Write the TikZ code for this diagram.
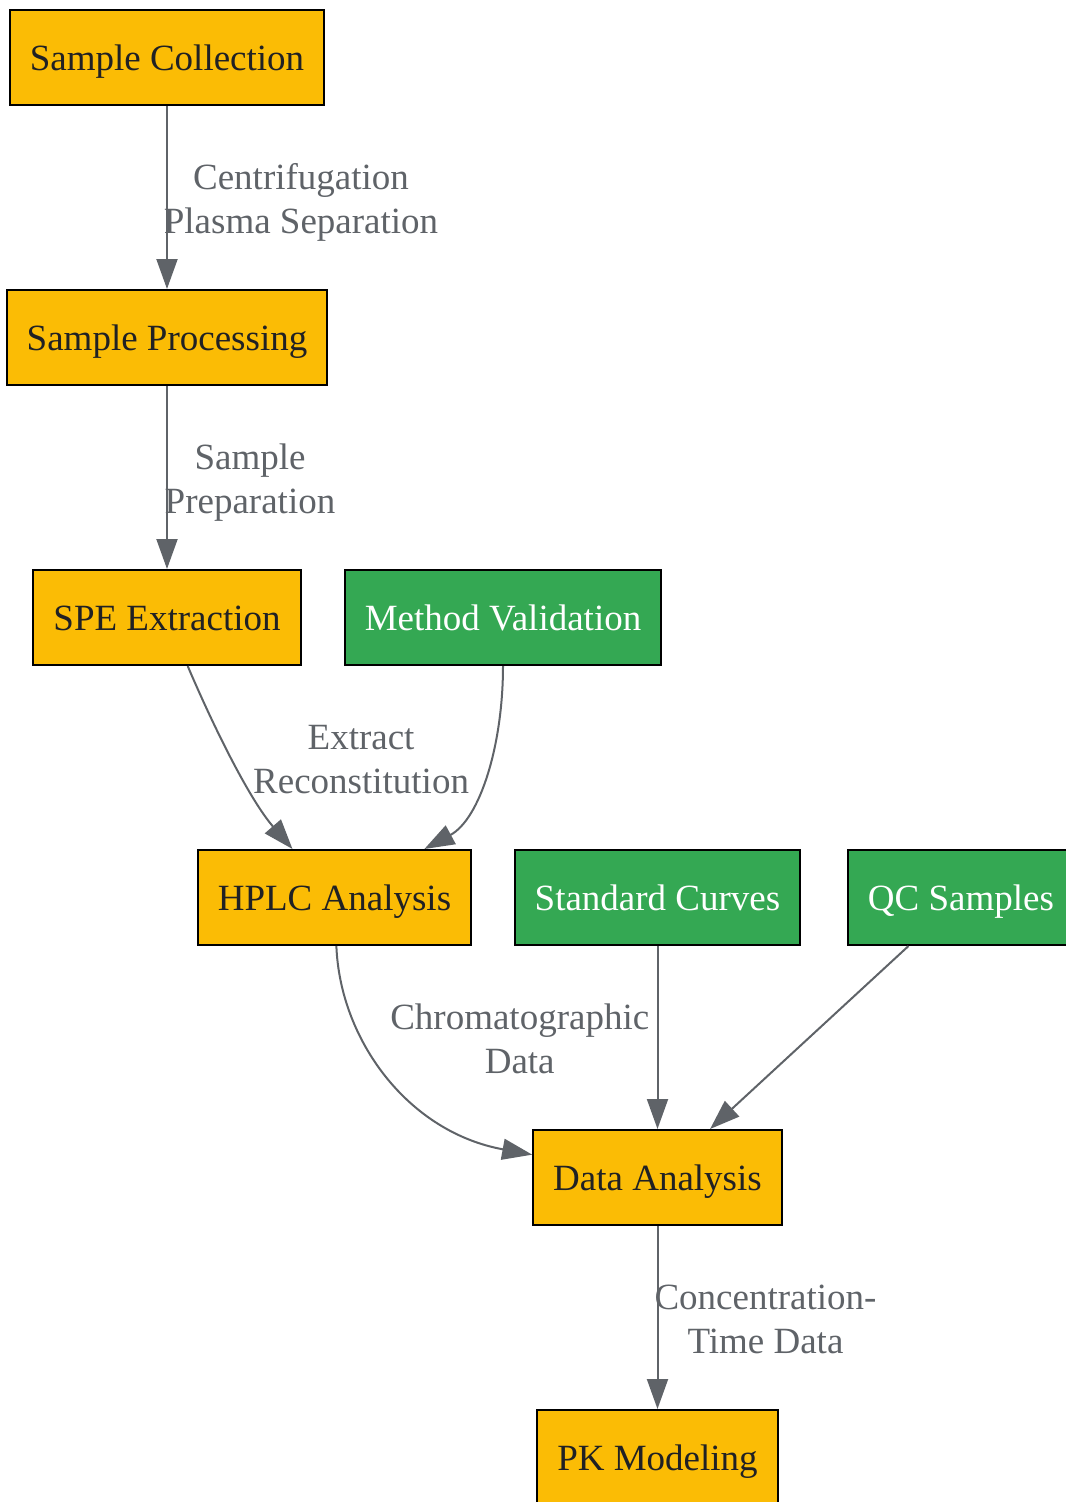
\documentclass[tikz,border=0pt]{standalone}
\usepackage{fontspec}
\setmainfont{Liberation Serif}
\usetikzlibrary{arrows.meta}
\definecolor{procfill}{HTML}{FBBC05}
\definecolor{validfill}{HTML}{34A853}
\definecolor{linkgray}{HTML}{5F6368}
\definecolor{textdark}{HTML}{202124}

\begin{document}
\begin{tikzpicture}
[x=0.75pt,y=-0.75pt,
 proc/.style={rectangle,draw=black,line width=1.5pt,fill=procfill,text=textdark,minimum height=71.25pt,inner xsep=15pt,text height=25pt,text depth=5pt,font=\fontsize{27.75}{33}\selectfont},
 valid/.style={proc,fill=validfill,text=white},
 link/.style={draw=linkgray,line width=1.5pt,-{Triangle[length=22.5pt,width=15.75pt]}},
 lbl/.style={text=linkgray,align=center,font=\fontsize{27.75}{33}\selectfont}]

\useasboundingbox (0,0) rectangle (1065,1502);

\node (collect) at (167,57.5) [proc] {Sample Collection};
\node (process) at (167,337.5) [proc] {Sample Processing};
\node (spe) at (167,617.5) [proc] {SPE Extraction};
\node (method) at (503,617.5) [valid] {Method Validation};
\node (hplc) at (334.5,897.5) [proc] {HPLC Analysis};
\node (stdcurve) at (657.5,897.5) [valid] {Standard Curves};
\node (qc) at (961,897.5) [valid] {QC Samples};
\node (analysis) at (657.5,1177.5) [proc] {Data Analysis};
\node (pkmodel) at (657.5,1457.5) [proc] {PK Modeling};

\draw [link] (collect) -- (process) node [midway,lbl,xshift=100.5pt,yshift=-3.75pt]{Centrifugation\\Plasma Separation};
\draw [link] (process) -- (spe) node [midway,lbl,xshift=62.25pt,yshift=-3.75pt]{Sample\\Preparation};
\draw [link] (spe) .. controls (215,730) and (250,800) .. (hplc) node [pos=.5,lbl,xshift=95pt,yshift=3pt]{Extract\\Reconstitution};
\draw [link] (method) .. controls (503,745) and (480,819) .. (hplc);
\draw [link] (hplc) .. controls (340,1040) and (408,1132) .. (analysis) node [pos=.5,lbl,xshift=98pt,yshift=28.5pt]{Chromatographic\\Data};
\draw [link] (stdcurve) -- (analysis);
\draw [link] (qc) -- (analysis);
\draw [link] (analysis) -- (pkmodel) node [midway,lbl,xshift=81pt,yshift=-1.5pt]{Concentration-\\Time Data};
\end{tikzpicture}
\end{document}
